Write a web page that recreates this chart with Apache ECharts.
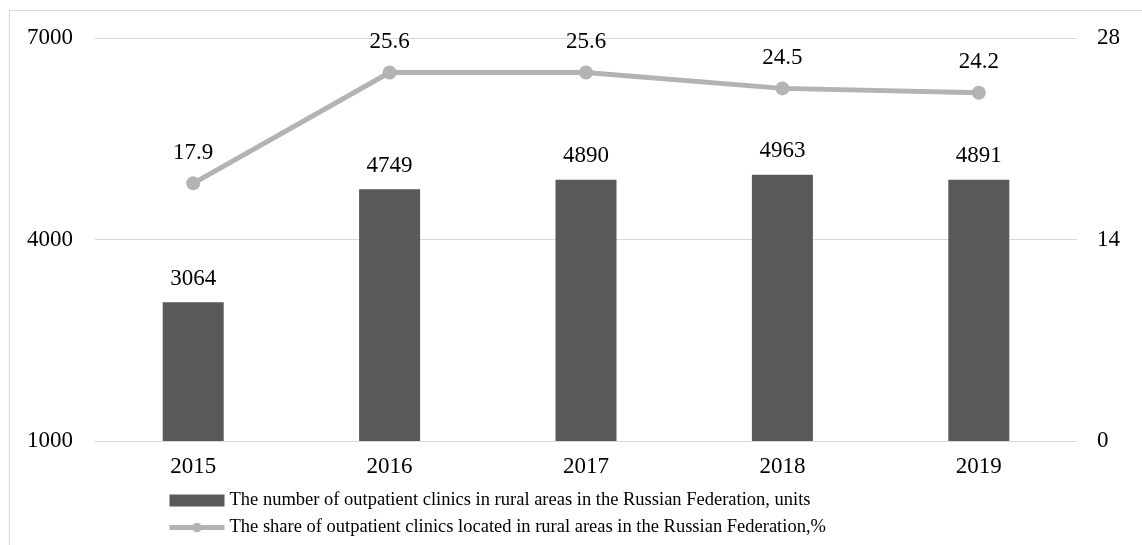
<!DOCTYPE html>
<html>
<head>
<meta charset="utf-8">
<script src="https://cdn.jsdelivr.net/npm/echarts@6/dist/echarts.min.js"></script>
<style>
  html, body { margin: 0; padding: 0; background: #fff; }
  #chart { width: 1142px; height: 545px; }
  .frame { position: absolute; left: 9px; top: 10px; width: 1140px; height: 540px; border: 1px solid #d9d9d9; box-sizing: border-box; pointer-events: none; }
</style>
</head>
<body>
<div id="chart"></div>
<div class="frame"></div>
<script>
const years = ["2015", "2016", "2017", "2018", "2019"];
const clinics = [3064, 4749, 4890, 4963, 4891];
const share = [17.9, 25.6, 25.6, 24.5, 24.2];
const barName = "The number of outpatient clinics in rural areas in the Russian Federation, units";
const lineName = "The share of outpatient clinics located in rural areas in the Russian Federation,%";

const font = "Liberation Serif";
let myChart = echarts.init(document.getElementById("chart"));
const option = {
  animation: false,
  textStyle: { fontFamily: font },
  grid: { left: 95, right: 65, top: 38, bottom: 104 },
  legend: {
    orient: "vertical",
    left: 167,
    top: 491,
    padding: 0,
    itemGap: 8,
    itemWidth: 55,
    itemHeight: 12,
    textStyle: { fontFamily: font, fontSize: 18.5, color: "#000" },
    data: [
      { name: barName, icon: "rect" },
      { name: lineName, lineStyle: { width: 5, color: "#b3b3b3" } }
    ]
  },
  xAxis: {
    type: "category",
    data: years,
    axisTick: { show: false },
    axisLine: { lineStyle: { color: "#d9d9d9", width: 1 } },
    axisLabel: { color: "#000", fontSize: 23, margin: 14, fontFamily: font }
  },
  yAxis: [
    {
      type: "value",
      min: 1000,
      max: 7000,
      interval: 3000,
      axisLine: { show: false },
      axisTick: { show: false },
      splitLine: { lineStyle: { color: "#d9d9d9", width: 1 } },
      axisLabel: { color: "#000", fontSize: 23, margin: 22, fontFamily: font, formatter: v => String(v) }
    },
    {
      type: "value",
      min: 0,
      max: 28,
      interval: 14,
      axisLine: { show: false },
      axisTick: { show: false },
      splitLine: { show: false },
      axisLabel: { color: "#000", fontSize: 23, margin: 20, fontFamily: font, formatter: v => String(v) }
    }
  ],
  series: [
    {
      name: barName,
      type: "bar",
      data: clinics,
      barWidth: 61,
      itemStyle: { color: "#595959" },
      label: { show: true, position: "top", distance: 12, color: "#000", fontSize: 23, fontFamily: font }
    },
    {
      name: lineName,
      type: "line",
      yAxisIndex: 1,
      data: share,
      symbol: "circle",
      symbolSize: 14,
      lineStyle: { color: "#b3b3b3", width: 5 },
      itemStyle: { color: "#b3b3b3" },
      label: { show: true, position: "top", distance: 12, color: "#000", fontSize: 23, fontFamily: font }
    }
  ]
};
myChart.setOption(option);
</script>
</body>
</html>
